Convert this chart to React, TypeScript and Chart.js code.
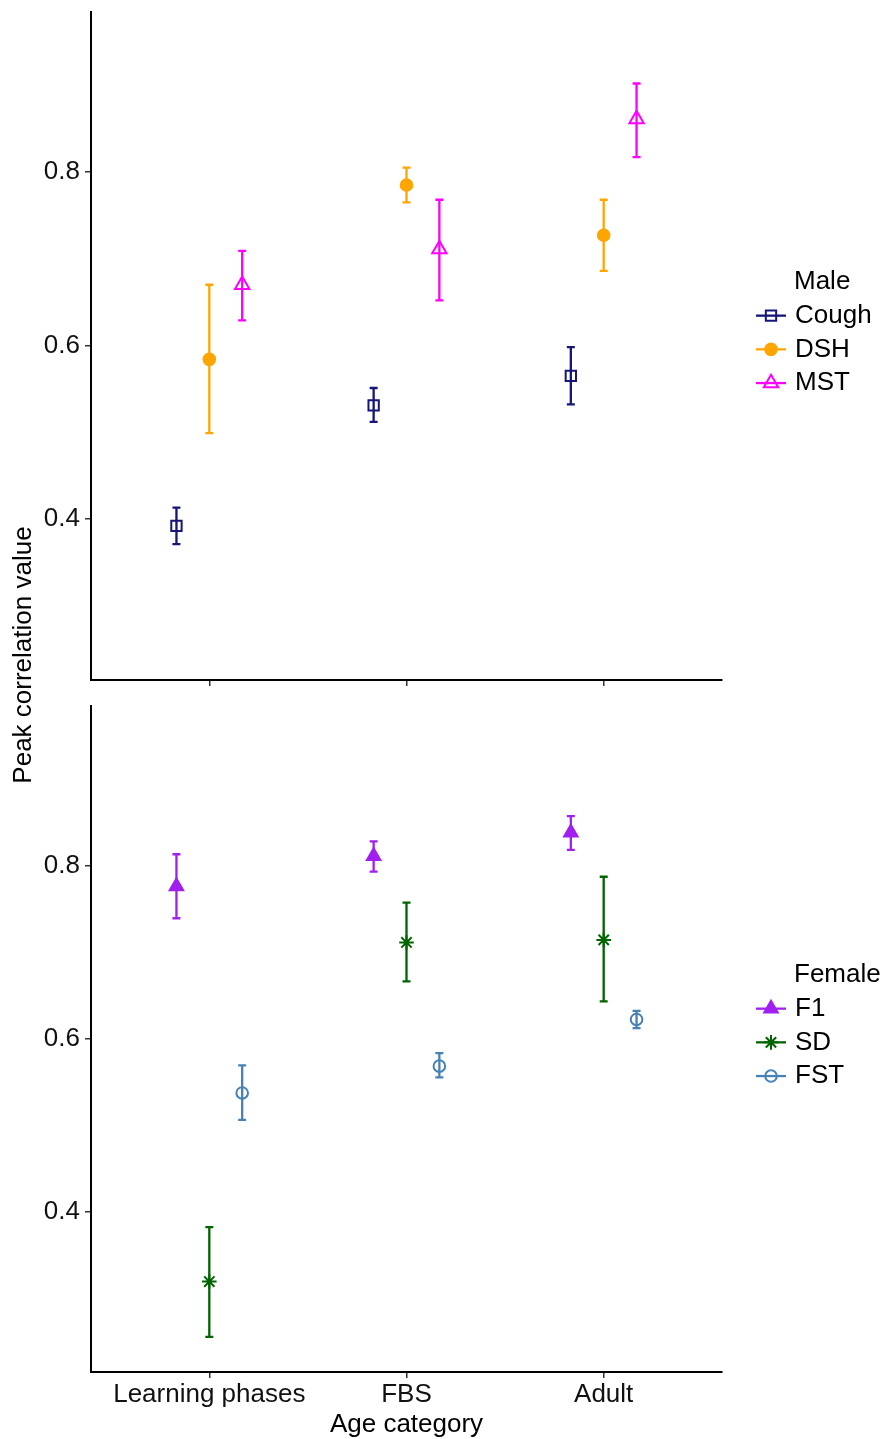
import React, { useEffect, useRef } from 'react';
import { Chart, registerables } from 'chart.js';
import { drawPoint } from 'chart.js/helpers';

Chart.register(...registerables);

const categories = ['Learning phases', 'FBS', 'Adult'];
const yTicks = [0.4, 0.6, 0.8];
const yMin = 0.2144;
const yMax = 0.9844;
const dodge = [-1 / 6, 0, 1 / 6];

// Male panel
const coughMean = [0.392, 0.531, 0.565];
const coughLo = [0.371, 0.512, 0.532];
const coughHi = [0.413, 0.551, 0.598];
const dshMean = [0.584, 0.785, 0.727];
const dshLo = [0.499, 0.765, 0.686];
const dshHi = [0.670, 0.805, 0.768];
const mstMean = [0.670, 0.711, 0.861];
const mstLo = [0.629, 0.652, 0.817];
const mstHi = [0.709, 0.768, 0.902];

// Female panel
const f1Mean = [0.776, 0.811, 0.838];
const f1Lo = [0.739, 0.793, 0.818];
const f1Hi = [0.813, 0.828, 0.857];
const sdMean = [0.319, 0.711, 0.714];
const sdLo = [0.255, 0.666, 0.643];
const sdHi = [0.382, 0.757, 0.787];
const fstMean = [0.537, 0.568, 0.622];
const fstLo = [0.506, 0.555, 0.612];
const fstHi = [0.569, 0.583, 0.632];

const FONT = "'Liberation Sans', Arial, Helvetica, sans-serif";

type Series = {
  label: string;
  color: string;
  style: string;
  filled: boolean;
  radius: number;
  mean: number[];
  lo: number[];
  hi: number[];
};

const maleSeries: Series[] = [
  { label: 'Cough', color: '#15157a', style: 'rect', filled: false, radius: 7.3, mean: coughMean, lo: coughLo, hi: coughHi },
  { label: 'DSH', color: '#FFA500', style: 'circle', filled: true, radius: 5.8, mean: dshMean, lo: dshLo, hi: dshHi },
  { label: 'MST', color: '#FF00FF', style: 'triangle', filled: false, radius: 8.3, mean: mstMean, lo: mstLo, hi: mstHi },
];

const femaleSeries: Series[] = [
  { label: 'F1', color: '#A020F0', style: 'triangle', filled: true, radius: 7.8, mean: f1Mean, lo: f1Lo, hi: f1Hi },
  { label: 'SD', color: '#006400', style: 'star', filled: false, radius: 7.3, mean: sdMean, lo: sdLo, hi: sdHi },
  { label: 'FST', color: '#4682B4', style: 'circle', filled: false, radius: 5.8, mean: fstMean, lo: fstLo, hi: fstHi },
];

const errorBarPlugin = {
  id: 'errBars',
  beforeDatasetsDraw(chart: any) {
    const ctx = chart.ctx;
    const xs = chart.scales.x;
    const ys = chart.scales.y;
    chart.data.datasets.forEach((ds: any) => {
      ctx.save();
      ctx.strokeStyle = ds.borderColor;
      ctx.lineWidth = 2.3;
      ds.data.forEach((pt: any, i: number) => {
        const px = xs.getPixelForValue(pt.x);
        const pLo = ys.getPixelForValue(ds.errLo[i]);
        const pHi = ys.getPixelForValue(ds.errHi[i]);
        ctx.beginPath();
        ctx.moveTo(px, pLo);
        ctx.lineTo(px, pHi);
        ctx.moveTo(px - 4, pLo);
        ctx.lineTo(px + 4, pLo);
        ctx.moveTo(px - 4, pHi);
        ctx.lineTo(px + 4, pHi);
        ctx.stroke();
      });
      ctx.restore();
    });
  },
};

function makeLegendPlugin(title: string, series: Series[]) {
  return {
    id: 'ggLegend',
    afterDraw(chart: any) {
      const ctx = chart.ctx;
      const area = chart.chartArea;
      const center = (area.top + area.bottom) / 2 - 13.5;
      const step = 33.7;
      const titleY = center - 1.5 * step;
      ctx.save();
      ctx.font = `26px ${FONT}`;
      ctx.textBaseline = 'middle';
      ctx.textAlign = 'left';
      ctx.fillStyle = '#000';
      ctx.fillText(title, 794, titleY);
      series.forEach((s, i) => {
        const y = titleY + step * (i + 1);
        ctx.strokeStyle = s.color;
        ctx.lineWidth = 2.3;
        ctx.beginPath();
        ctx.moveTo(756, y);
        ctx.lineTo(786, y);
        ctx.stroke();
        ctx.fillStyle = s.filled ? s.color : 'rgba(0,0,0,0)';
        ctx.lineWidth = 2;
        drawPoint(ctx, { pointStyle: s.style, radius: s.radius, rotation: 0, borderWidth: 2 } as any, 771, y);
        ctx.fillStyle = '#000';
        ctx.fillText(s.label, 795, y);
      });
      ctx.restore();
    },
  };
}

function buildConfig(series: Series[], legendTitle: string, bottom: boolean) {
  const datasets = series.map((s, si) => ({
    label: s.label,
    data: s.mean.map((v, i) => ({ x: i + 1 + dodge[si], y: v })),
    errLo: s.lo,
    errHi: s.hi,
    borderColor: s.color,
    backgroundColor: s.filled ? s.color : 'rgba(0,0,0,0)',
    pointStyle: s.style,
    pointRadius: s.radius,
    pointHoverRadius: s.radius,
    pointBorderWidth: 2,
    pointBackgroundColor: s.filled ? s.color : 'rgba(0,0,0,0)',
    pointBorderColor: s.color,
    showLine: false,
  }));
  return {
    type: 'scatter',
    data: { datasets },
    options: {
      animation: false,
      responsive: false,
      events: [],
      layout: { padding: { left: 0, right: 166, top: bottom ? 11 : 12, bottom: 0 } },
      plugins: { legend: { display: false }, tooltip: { enabled: false } },
      scales: {
        x: {
          type: 'linear',
          min: 0.4,
          max: 3.6,
          afterBuildTicks: (scale: any) => {
            scale.ticks = categories.map((_, i) => ({ value: i + 1 }));
          },
          afterFit: (scale: any) => {
            scale.height = bottom ? 67 : 15;
            scale.paddingLeft = 0;
            scale.paddingRight = 0;
          },
          ticks: {
            autoSkip: false,
            maxRotation: 0,
            padding: 1,
            color: '#111',
            font: { family: FONT, size: 26, lineHeight: 1.2 },
            callback: (v: any) => (bottom ? categories[Math.round(v) - 1] : ''),
          },
          grid: { drawOnChartArea: false, drawTicks: true, tickLength: 6, color: '#333', lineWidth: 1.5 },
          border: { display: true, color: '#000', width: 2 },
          title: {
            display: bottom,
            text: 'Age category',
            color: '#000',
            font: { family: FONT, size: 26, lineHeight: 1.2 },
            padding: { top: 0, bottom: -1 },
          },
        },
        y: {
          type: 'linear',
          min: yMin,
          max: yMax,
          afterBuildTicks: (scale: any) => {
            scale.ticks = yTicks.map((v) => ({ value: v }));
          },
          afterFit: (scale: any) => {
            scale.width = 91;
            scale.paddingTop = 0;
            scale.paddingBottom = 0;
          },
          ticks: {
            padding: 5,
            color: '#111',
            font: { family: FONT, size: 26 },
            callback: (v: any) => Number(v).toFixed(1),
          },
          grid: { drawOnChartArea: false, drawTicks: true, tickLength: 6, color: '#333', lineWidth: 1.5 },
          border: { display: true, color: '#000', width: 2 },
        },
      },
    },
    plugins: [errorBarPlugin, makeLegendPlugin(legendTitle, series)],
  } as any;
}

function Panel({ series, title, bottom, top, height }: { series: Series[]; title: string; bottom: boolean; top: number; height: number }) {
  const ref = useRef<HTMLCanvasElement | null>(null);
  useEffect(() => {
    if (!ref.current) return;
    const chart = new Chart(ref.current, buildConfig(series, title, bottom));
    return () => chart.destroy();
  }, []);
  return (
    <canvas
      ref={ref}
      width={888}
      height={height}
      style={{ position: 'absolute', left: 0, top, width: 888, height }}
    />
  );
}

export default function App() {
  return (
    <div style={{ position: 'absolute', left: 0, top: 0, width: 888, height: 1439, background: '#fff', overflow: 'hidden' }}>
      <Panel series={maleSeries} title="Male" bottom={false} top={0} height={695} />
      <Panel series={femaleSeries} title="Female" bottom={true} top={695} height={744} />
      <div
        style={{
          position: 'absolute',
          left: 22 - 200,
          top: 655 - 16,
          width: 400,
          height: 32,
          lineHeight: '32px',
          textAlign: 'center',
          fontFamily: FONT,
          fontSize: 26,
          color: '#000',
          transform: 'rotate(-90deg)',
          transformOrigin: 'center center',
          whiteSpace: 'nowrap',
        }}
      >
        Peak correlation value
      </div>
    </div>
  );
}
